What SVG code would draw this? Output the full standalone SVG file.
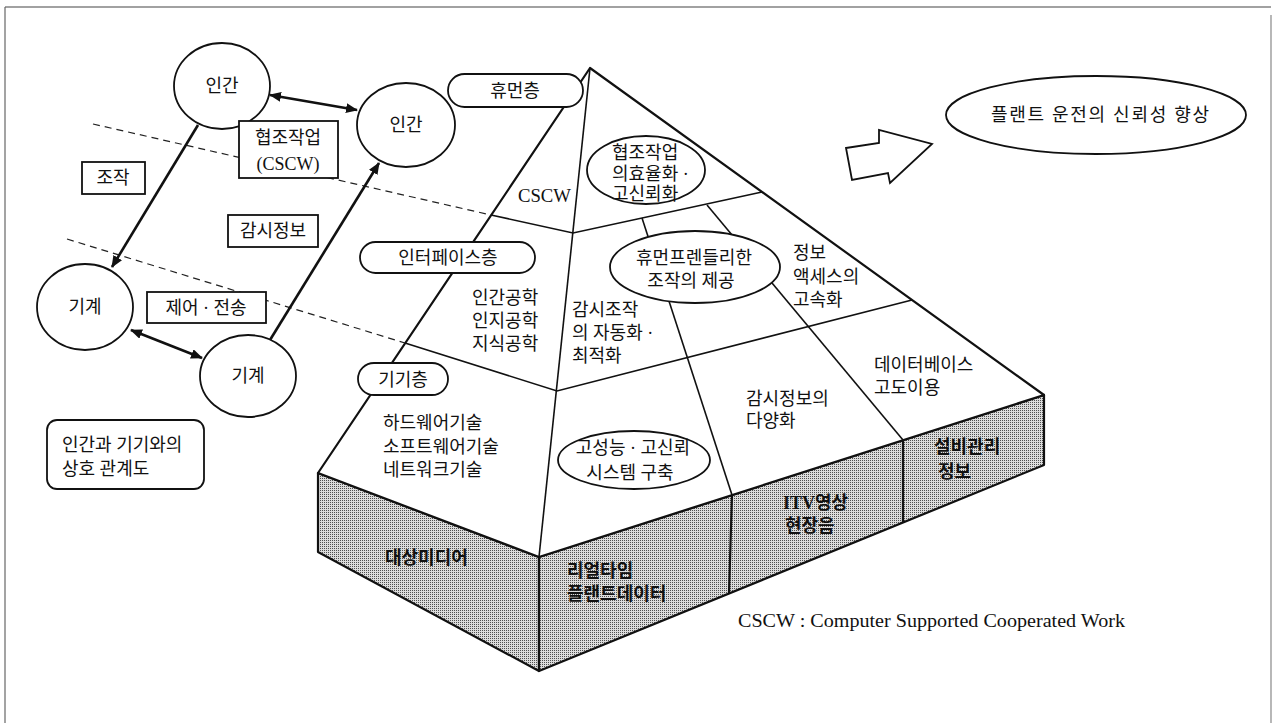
<svg xmlns="http://www.w3.org/2000/svg" width="1274" height="723" viewBox="0 0 1274 723">
<style>
  .t { font-family: "Liberation Serif", "Noto Sans CJK KR", serif; font-size: 18px; fill: #111; }
  .c { text-anchor: middle; }
  .b { font-weight: bold; }
  .ln { fill: none; stroke: #111; stroke-width: 1.6; }
  .edge { fill: none; stroke: #111; stroke-width: 2.2; stroke-linejoin: round; }
  .face { fill: url(#hatch); stroke: #111; stroke-width: 2.2; stroke-linejoin: round; }
  .top { fill: #fff; stroke: #111; stroke-width: 2.2; stroke-linejoin: round; }
  .node { fill: #fff; stroke: #111; stroke-width: 1.8; }
  .dash { fill: none; stroke: #222; stroke-width: 1.2; stroke-dasharray: 7 5; }
  .arr { fill: none; stroke: #111; stroke-width: 2.6; }
</style>
<defs>
  <marker id="ah" markerUnits="userSpaceOnUse" markerWidth="12" markerHeight="10" refX="11" refY="5" orient="auto-start-reverse">
    <path d="M0,0 L12,5 L0,10 z" fill="#111"/>
  </marker>
  <pattern id="hatch" patternUnits="userSpaceOnUse" width="2" height="2">
    <rect width="2" height="2" fill="#dcdcdc"/>
    <rect width="1" height="1" fill="#505050"/>
  </pattern>
</defs>
<rect width="1274" height="723" fill="#fff"/>
<!-- frame -->
<g id="frame" fill="none">
  <line x1="5" y1="7" x2="1271" y2="7" stroke="#444" stroke-width="1.2"/>
  <line x1="5" y1="7" x2="5" y2="723" stroke="#666" stroke-width="1.2"/>
  <line x1="1271" y1="15" x2="1271" y2="723" stroke="#888" stroke-width="1.2"/>
</g>

<!-- pyramid and block -->
<g id="block">
  <polygon points="318,473 539,557 539,671 318,552" class="face"/>
  <polygon points="539,557 1044,395 1044,465 539,671" class="face"/>
  <line x1="732" y1="495" x2="729" y2="593" class="edge"/>
  <line x1="903" y1="440" x2="903" y2="522" class="edge"/>
</g>
<g id="pyramid">
  <polygon points="590,68 318,473 539,557 1044,395" class="top"/>
  <line x1="590" y1="68" x2="539" y2="557" class="ln"/>
  <polyline points="491,215 573,233 762,192" class="ln"/>
  <polyline points="405,343 557,391 912,300" class="ln"/>
  <line x1="642" y1="218" x2="732" y2="495" class="ln"/>
  <line x1="707" y1="205" x2="903" y2="440" class="ln"/>
</g>

<!-- connectors -->
<g id="connectors">
  <line x1="93" y1="124" x2="491" y2="215" class="dash"/>
  <line x1="67" y1="239" x2="405" y2="343" class="dash"/>
  <line x1="270" y1="95" x2="357" y2="110" class="arr" marker-start="url(#ah)" marker-end="url(#ah)"/>
  <line x1="198" y1="125" x2="112" y2="267" class="arr" marker-end="url(#ah)"/>
  <line x1="270" y1="340" x2="379" y2="163" class="arr" marker-end="url(#ah)"/>
  <line x1="131" y1="330" x2="202" y2="358" class="arr" marker-start="url(#ah)" marker-end="url(#ah)"/>
</g>

<!-- left diagram nodes -->
<g id="human1"><ellipse cx="222" cy="86" rx="48" ry="43" class="node"/><text x="222" y="92" class="t c">인간</text></g>
<g id="human2"><ellipse cx="406" cy="125" rx="49" ry="42" class="node"/><text x="406" y="131" class="t c">인간</text></g>
<g id="machine1"><ellipse cx="85" cy="307" rx="48" ry="43" class="node"/><text x="85" y="313" class="t c">기계</text></g>
<g id="machine2"><ellipse cx="248" cy="376" rx="48" ry="41" class="node"/><text x="248" y="382" class="t c">기계</text></g>
<g id="box-cscw"><rect x="239" y="121" width="99" height="57" class="node"/><text x="288" y="144" class="t c">협조작업</text><text x="288" y="170" class="t c">(CSCW)</text></g>
<g id="box-jojak"><rect x="82" y="162" width="63" height="32" class="node"/><text x="113" y="184" class="t c">조작</text></g>
<g id="box-gamsi"><rect x="228" y="215" width="90" height="32" class="node"/><text x="273" y="237" class="t c">감시정보</text></g>
<g id="box-jeeo"><rect x="147" y="292" width="119" height="31" class="node"/><text x="206" y="314" class="t c">제어 · 전송</text></g>
<g id="caption-box"><rect x="47" y="420" width="157" height="69" rx="10" class="node"/><text x="62" y="451" class="t">인간과 기기와의</text><text x="62" y="475" class="t">상호 관계도</text></g>

<!-- layer pills -->
<g id="pill-human"><rect x="448" y="74" width="135" height="33" rx="16.5" class="node"/><text x="515" y="97" class="t c">휴먼층</text></g>
<g id="pill-interface"><rect x="360" y="242" width="175" height="31" rx="15.5" class="node"/><text x="448" y="264" class="t c">인터페이스층</text></g>
<g id="pill-device"><rect x="358" y="363" width="90" height="32" rx="16" class="node"/><text x="403" y="386" class="t c">기기층</text></g>

<!-- pyramid ellipses -->
<g id="ell-coop"><ellipse cx="646" cy="170" rx="59" ry="34" class="node"/><text x="612" y="159" class="t">협조작업</text><text x="612" y="180" class="t">의효율화 ·</text><text x="612" y="200" class="t">고신뢰화</text></g>
<g id="ell-friendly"><ellipse cx="695" cy="267" rx="85" ry="36" class="node"/><text x="694" y="264" class="t c">휴먼프렌들리한</text><text x="691" y="287" class="t c">조작의 제공</text></g>
<g id="ell-perf"><ellipse cx="634" cy="460" rx="76" ry="29" class="node"/><text x="633" y="454" class="t c">고성능 · 고신뢰</text><text x="630" y="479" class="t c">시스템 구축</text></g>

<!-- pyramid texts -->
<g id="txt-cscw"><text x="518" y="202" class="t" font-size="20" textLength="53" lengthAdjust="spacingAndGlyphs">CSCW</text></g>
<g id="txt-ergo"><text x="472" y="304" class="t">인간공학</text><text x="472" y="327" class="t">인지공학</text><text x="472" y="350" class="t">지식공학</text></g>
<g id="txt-auto"><text x="572" y="316" class="t">감시조작</text><text x="572" y="339" class="t">의 자동화 ·</text><text x="572" y="362" class="t">최적화</text></g>
<g id="txt-hw"><text x="383" y="429" class="t">하드웨어기술</text><text x="383" y="453" class="t">소프트웨어기술</text><text x="383" y="476" class="t">네트워크기술</text></g>
<g id="txt-access"><text x="793" y="259" class="t">정보</text><text x="793" y="283" class="t">액세스의</text><text x="793" y="306" class="t">고속화</text></g>
<g id="txt-db"><text x="874" y="371" class="t">데이터베이스</text><text x="874" y="394" class="t">고도이용</text></g>
<g id="txt-mon"><text x="746" y="405" class="t">감시정보의</text><text x="746" y="427" class="t">다양화</text></g>

<!-- block side labels -->
<g id="side-media"><text x="385" y="564" class="t b">대상미디어</text></g>
<g id="side-realtime"><text x="567" y="577" class="t b">리얼타임</text><text x="567" y="600" class="t b">플랜트데이터</text></g>
<g id="side-itv"><text x="783" y="509" class="t b">ITV영상</text><text x="785" y="532" class="t b">현장음</text></g>
<g id="side-equip"><text x="934" y="453" class="t b">설비관리</text><text x="938" y="478" class="t b">정보</text></g>

<!-- result -->
<g id="big-arrow"><polygon points="846,148 879,143 879,130 932,144 890,183 888,173 852,180" fill="#fff" stroke="#111" stroke-width="1.8" stroke-linejoin="miter"/></g>
<g id="goal"><ellipse cx="1096" cy="115" rx="150" ry="39" class="node"/><text x="1100" y="121" class="t c" textLength="218" lengthAdjust="spacing">플랜트 운전의 신뢰성 향상</text></g>

<g id="footnote"><text x="738" y="627" class="t" font-size="19" textLength="387" lengthAdjust="spacingAndGlyphs">CSCW : Computer Supported Cooperated Work</text></g>
</svg>
